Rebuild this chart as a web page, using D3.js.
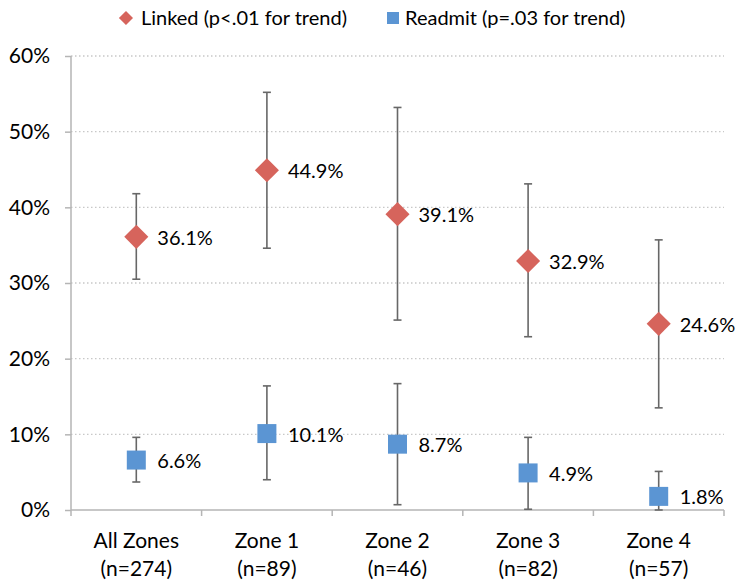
<html>
<script src='https://d3js.org/d3.v7.min.js'></script>
<style>
body { margin: 0; background: #fff; }
text { font-family: Lato, "Open Sans", sans-serif; fill: #000; }
</style>
<body>
<svg width=746 height=588></svg>
<script>
// categories and values (percent)
var categories = ["All Zones", "Zone 1", "Zone 2", "Zone 3", "Zone 4"];
var nLabels = ["(n=274)", "(n=89)", "(n=46)", "(n=82)", "(n=57)"];

var linked     = [36.1, 44.9, 39.1, 32.9, 24.6];
var linkedLow  = [30.5, 34.6, 25.1, 22.9, 13.5];
var linkedHigh = [41.8, 55.2, 53.2, 43.1, 35.7];

var readmit     = [6.6, 10.1, 8.7, 4.9, 1.8];
var readmitLow  = [3.7, 4.0, 0.7, 0.1, 0.0];
var readmitHigh = [9.6, 16.4, 16.7, 9.6, 5.1];

var yTicks = [0, 10, 20, 30, 40, 50, 60];
var legendLabels = ["Linked (p<.01 for trend)", "Readmit (p=.03 for trend)"];

var linkedColor = "#d6645c";
var readmitColor = "#5b95d3";
var errColor = "#676767";
var axisColor = "#b5b5b5";

var svg = d3.select("svg");

var x = d3.scaleBand().domain(categories).range([71, 724]);
var y = d3.scaleLinear().domain([0, 60]).range([510, 56]);

// gridlines
svg.append("g")
  .selectAll("line")
  .data(yTicks.filter(function (d) { return d > 0; }))
  .enter()
  .append("line")
    .attr("x1", 71).attr("x2", 724)
    .attr("y1", function (d) { return y(d); })
    .attr("y2", function (d) { return y(d); })
    .style("stroke", "#c8c8c8")
    .style("stroke-width", 1.3)
    .style("stroke-dasharray", "1.5,2.5");

// y axis
var yAxis = svg.append("g")
  .attr("transform", "translate(71,0)")
  .call(d3.axisLeft(y).tickValues(yTicks).tickSize(6).tickPadding(15)
        .tickFormat(function (d) { return d + "%"; }));
yAxis.selectAll("path, line").style("stroke", axisColor).style("stroke-width", 1.5);
yAxis.select(".domain").attr("d", "M0," + y(60) + "V" + y(0));
yAxis.selectAll("text").style("font-size", "21px").style("font-family", "Lato, sans-serif").style("fill", "#000");

// x axis line with ticks at band boundaries
var xg = svg.append("g");
xg.append("line")
  .attr("x1", 71).attr("x2", 724).attr("y1", y(0)).attr("y2", y(0))
  .style("stroke", axisColor).style("stroke-width", 1.5);
xg.selectAll("line.tk")
  .data(categories.concat(["_end"]))
  .enter()
  .append("line")
    .attr("class", "tk")
    .attr("x1", function (d, i) { return 71 + i * x.bandwidth(); })
    .attr("x2", function (d, i) { return 71 + i * x.bandwidth(); })
    .attr("y1", y(0)).attr("y2", y(0) + 6)
    .style("stroke", axisColor).style("stroke-width", 1.5);

xg.selectAll("text.cat")
  .data(categories)
  .enter()
  .append("text")
    .attr("class", "cat")
    .attr("x", function (d) { return x(d) + x.bandwidth() / 2; })
    .attr("y", 548)
    .attr("text-anchor", "middle")
    .style("font-size", "21px")
    .text(function (d) { return d; });

xg.selectAll("text.n")
  .data(nLabels)
  .enter()
  .append("text")
    .attr("class", "n")
    .attr("x", function (d, i) { return x(categories[i]) + x.bandwidth() / 2; })
    .attr("y", 576)
    .attr("text-anchor", "middle")
    .style("font-size", "21px")
    .text(function (d) { return d; });

function cx(i) { return x(categories[i]) + x.bandwidth() / 2; }

// draw one series: error bars, marker, label
function drawSeries(vals, lo, hi, diamond, color, size) {
  var g = svg.append("g");
  var idx = d3.range(vals.length);

  g.selectAll("line.err")
    .data(idx).enter().append("line")
      .attr("class", "err")
      .attr("x1", cx).attr("x2", cx)
      .attr("y1", function (i) { return y(lo[i]); })
      .attr("y2", function (i) { return y(hi[i]); })
      .style("stroke", errColor).style("stroke-width", 1.6);

  [lo, hi].forEach(function (arr) {
    g.selectAll(null)
      .data(idx).enter().append("line")
        .attr("x1", function (i) { return cx(i) - 4; })
        .attr("x2", function (i) { return cx(i) + 4; })
        .attr("y1", function (i) { return y(arr[i]); })
        .attr("y2", function (i) { return y(arr[i]); })
        .style("stroke", errColor).style("stroke-width", 1.6);
  });

  g.selectAll("path.mk")
    .data(idx).enter().append("path")
      .attr("class", "mk")
      .attr("d", d3.symbol().type(d3.symbolSquare).size(size))
      .attr("transform", function (i) {
        return "translate(" + cx(i) + "," + y(vals[i]) + ")" + (diamond ? " rotate(45)" : "");
      })
      .style("fill", color);

  g.selectAll("text.lbl")
    .data(idx).enter().append("text")
      .attr("class", "lbl")
      .attr("x", function (i) { return cx(i) + 21; })
      .attr("y", function (i) { return y(vals[i]) + 8; })
      .style("font-size", "20px")
      .text(function (i) { return vals[i].toFixed(1) + "%"; });
}

drawSeries(linked, linkedLow, linkedHigh, true, linkedColor, 290);
drawSeries(readmit, readmitLow, readmitHigh, false, readmitColor, 361);

// legend: first entry right-aligned so it ends before the second marker
var lg = svg.append("g");
var t1 = lg.append("text").attr("x", 347).attr("y", 25)
  .attr("text-anchor", "end").style("font-size", "20px").text(legendLabels[0]);
var t1w = t1.node().getComputedTextLength();
lg.append("path")
  .attr("d", d3.symbol().type(d3.symbolSquare).size(100))
  .attr("transform", "translate(" + (347 - t1w - 15) + ",18) rotate(45)")
  .style("fill", linkedColor);
lg.append("path")
  .attr("d", d3.symbol().type(d3.symbolSquare).size(144))
  .attr("transform", "translate(393,18)")
  .style("fill", readmitColor);
lg.append("text").attr("x", 405).attr("y", 25).style("font-size", "20px").text(legendLabels[1]);
</script>
</body>
</html>
